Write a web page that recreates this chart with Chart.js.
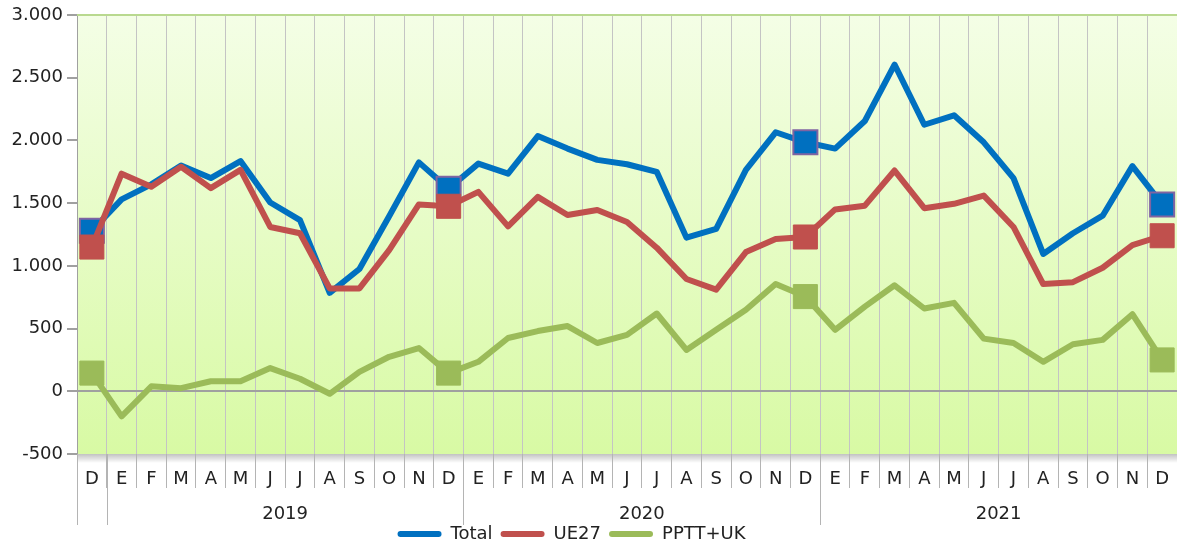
<!DOCTYPE html>
<html>
<head>
<meta charset="utf-8">
<script src="https://cdn.jsdelivr.net/npm/chart.js@4/dist/chart.umd.min.js"></script>
<style>
  html, body { margin: 0; padding: 0; background: #fff; }
  #wrap { width: 1177px; height: 545px; }
</style>
</head>
<body>
<div id="wrap"><canvas id="chart" width="1177" height="545"></canvas></div>
<script>
// meses (D de 2018 + 2019..2021)
const months = ['D',
  'E','F','M','A','M','J','J','A','S','O','N','D',
  'E','F','M','A','M','J','J','A','S','O','N','D',
  'E','F','M','A','M','J','J','A','S','O','N','D'];
const years = ['2019', '2020', '2021'];
const yTicks = [-500, 0, 500, 1000, 1500, 2000, 2500, 3000];

const total = [1280,
  1530, 1650, 1800, 1700, 1835, 1505, 1365, 785, 975, 1395, 1825, 1615,
  1815, 1735, 2035, 1935, 1845, 1810, 1750, 1225, 1295, 1765, 2065, 1985,
  1935, 2155, 2605, 2125, 2200, 1985, 1700, 1095, 1260, 1400, 1795, 1490];
const ue27 = [1150,
  1735, 1630, 1790, 1620, 1765, 1310, 1260, 820, 820, 1125, 1490, 1475,
  1590, 1315, 1550, 1405, 1445, 1350, 1145, 895, 810, 1110, 1215, 1230,
  1450, 1480, 1760, 1460, 1495, 1560, 1310, 855, 870, 985, 1165, 1240];
const pptt = [145,
  -200, 40, 25, 80, 80, 185, 100, -20, 155, 275, 345, 145,
  235, 425, 480, 520, 385, 450, 620, 330, 490, 650, 855, 755,
  490, 675, 845, 660, 705, 420, 385, 235, 375, 410, 615, 250];

// marcadores solo en diciembre
const markerAt = months.map((m, i) => (i % 12 === 0 ? 17 : 0));

const fmt = v => String(v).replace(/\B(?=(\d{3})+(?!\d))/g, '.');

const font = { family: 'DejaVu Sans', size: 18 };

const decor = {
  id: 'decor',
  beforeDraw(chart) {
    const { ctx, chartArea: a } = chart;
    const g = ctx.createLinearGradient(0, a.top, 0, a.bottom);
    g.addColorStop(0, '#f4fee6');
    g.addColorStop(1, '#d8faa4');
    ctx.save();
    ctx.fillStyle = g;
    ctx.fillRect(a.left, a.top, a.right - a.left, a.bottom - a.top);
    // sombra bajo el área
    const s = ctx.createLinearGradient(0, a.bottom, 0, a.bottom + 9);
    s.addColorStop(0, 'rgba(120,120,120,0.45)');
    s.addColorStop(1, 'rgba(120,120,120,0)');
    ctx.fillStyle = s;
    ctx.fillRect(a.left, a.bottom, a.right - a.left, 9);
    ctx.restore();
  },
  afterDraw(chart) {
    const { ctx, chartArea: a } = chart;
    const x = chart.scales.x;
    ctx.save();
    // borde superior
    ctx.strokeStyle = '#b9d98f';
    ctx.lineWidth = 2;
    ctx.beginPath();
    ctx.moveTo(a.left, a.top);
    ctx.lineTo(a.right, a.top);
    ctx.stroke();
    // separadores de año y etiquetas
    ctx.strokeStyle = '#b4b4b4';
    ctx.lineWidth = 1;
    const bounds = [a.left];
    for (let k = 0; k < years.length; k++) {
      const i = 1 + k * 12;
      bounds.push((x.getPixelForValue(i - 1) + x.getPixelForValue(i)) / 2);
    }
    bounds.forEach(b => {
      const px = Math.round(b) + 0.5;
      ctx.beginPath();
      ctx.moveTo(px, a.bottom);
      ctx.lineTo(px, 525);
      ctx.stroke();
    });
    ctx.fillStyle = '#222';
    ctx.font = '18px "DejaVu Sans"';
    ctx.textAlign = 'center';
    ctx.textBaseline = 'middle';
    years.forEach((y, k) => {
      const c = (x.getPixelForValue(1 + k * 12) + x.getPixelForValue(12 + k * 12)) / 2;
      ctx.fillText(y, c, 514);
    });
    ctx.restore();
  },
  afterLayout(chart) {
    const lg = chart.legend;
    if (lg) {
      lg.left -= 17; lg.right -= 17;
      lg.top += 8; lg.bottom += 8;
    }
  }
};

new Chart(document.getElementById('chart'), {
  type: 'line',
  data: {
    labels: months,
    datasets: [
      { label: 'Total', data: total, borderColor: '#0070c0', backgroundColor: '#0070c0',
        pointBorderColor: '#8064a2', pointBorderWidth: 2, order: 3 },
      { label: 'UE27', data: ue27, borderColor: '#c0504d', backgroundColor: '#c0504d',
        pointBorderColor: '#c0504d', pointBorderWidth: 1, order: 2 },
      { label: 'PPTT+UK', data: pptt, borderColor: '#9bbb59', backgroundColor: '#9bbb59',
        pointBorderColor: '#9bbb59', pointBorderWidth: 1, order: 1 }
    ].map(d => Object.assign(d, {
      borderWidth: 6,
      tension: 0,
      borderJoinStyle: 'round',
      pointStyle: 'rect',
      pointRadius: markerAt,
      pointHoverRadius: markerAt,
      pointBackgroundColor: d.borderColor,
      clip: false
    }))
  },
  options: {
    responsive: false,
    animation: false,
    layout: { autoPadding: false, padding: { top: 15, right: 0, left: 0, bottom: 0 } },
    plugins: {
      tooltip: { enabled: false },
      legend: {
        position: 'bottom',
        labels: {
          font: font,
          color: '#222',
          boxWidth: 44,
          boxHeight: 6,
          padding: 8,
          useBorderRadius: true,
          borderRadius: 3,
          sort: (a, b) => a.datasetIndex - b.datasetIndex,
          generateLabels(chart) {
            return Chart.defaults.plugins.legend.labels.generateLabels(chart).map(it => {
              it.lineWidth = 0;
              it.strokeStyle = it.fillStyle;
              return it;
            });
          }
        }
      }
    },
    scales: {
      x: {
        type: 'category',
        offset: true,
        grid: { offset: true, color: '#c4c4c4', tickColor: '#b4b4b4', tickLength: 34 },
        border: { display: false },
        ticks: { font: font, color: '#222', padding: -19, autoSkip: false, maxRotation: 0 },
        afterFit(s) { s.height = 55; }
      },
      y: {
        min: -500,
        max: 3000,
        afterBuildTicks(s) { s.ticks = yTicks.map(v => ({ value: v })); },
        grid: {
          color: c => (c.tick && c.tick.value === 0 ? '#a0a0a0' : 'rgba(0,0,0,0)'),
          tickColor: '#a0a0a0',
          tickLength: 10,
          lineWidth: 2
        },
        border: { color: '#a0a0a0', width: 1 },
        ticks: { font: font, color: '#222', padding: 4, callback: v => fmt(v) },
        afterFit(s) { s.width = 77; }
      }
    }
  },
  plugins: [decor]
});
</script>
</body>
</html>
